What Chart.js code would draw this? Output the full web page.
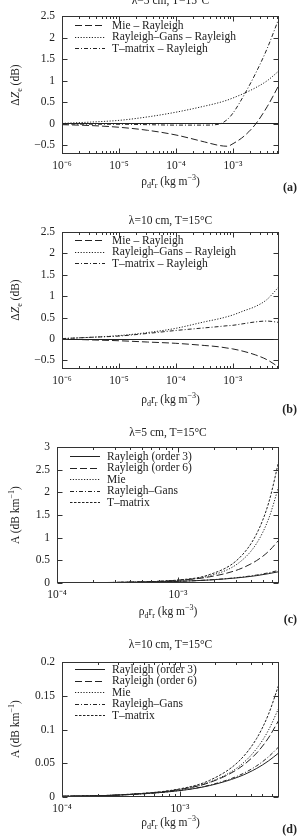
<!DOCTYPE html>
<html>
<head>
<meta charset="utf-8">
<script src="https://cdn.jsdelivr.net/npm/chart.js@4.4.1/dist/chart.umd.min.js"></script>
<style>
  body { margin: 0; width: 298px; height: 836px; background: #fff; position: relative; overflow: hidden;
         font-family: "Liberation Serif", "Times New Roman", serif; color: #222; }
  canvas { position: absolute; left: 0; }
  .ttl, .xt { position: absolute; text-align: center; font-size: 11.5px; line-height: 14px; white-space: nowrap; }
  .yt { position: absolute; left: 15px; font-size: 11.5px; line-height: 14px; white-space: nowrap;
        transform: translate(-50%, -50%) rotate(-90deg); }
  .tag { position: absolute; right: 1px; font-size: 12px; font-weight: bold; line-height: 14px; }
  sub, sup { font-size: 70%; line-height: 0; }
</style>
</head>
<body>

<canvas id="pa" width="298" height="176" style="top:0px"></canvas>
<canvas id="pb" width="298" height="176" style="top:216px"></canvas>
<canvas id="pc" width="298" height="176" style="top:431px"></canvas>
<canvas id="pd" width="298" height="176" style="top:646px"></canvas>

<!-- panel titles -->
<div class="ttl" style="left:62px;width:217px;top:-7px">λ=5 cm, T=15°C</div>
<div class="ttl" style="left:62px;width:217px;top:213px">λ=10 cm, T=15°C</div>
<div class="ttl" style="left:57px;width:222px;top:425px">λ=5 cm, T=15°C</div>
<div class="ttl" style="left:62px;width:217px;top:637px">λ=10 cm, T=15°C</div>

<!-- axis titles -->
<div class="yt" style="top:85px">Δ<i>Z</i><sub>e</sub> (dB)</div>
<div class="yt" style="top:300px">Δ<i>Z</i><sub>e</sub> (dB)</div>
<div class="yt" style="top:515px">A (dB km<sup>−1</sup>)</div>
<div class="yt" style="top:729px">A (dB km<sup>−1</sup>)</div>

<div class="xt" style="left:62px;width:217px;top:174px">ρ<sub>d</sub>r<sub>r</sub> (kg m<sup>−3</sup>)</div>
<div class="xt" style="left:62px;width:217px;top:392px">ρ<sub>d</sub>r<sub>r</sub> (kg m<sup>−3</sup>)</div>
<div class="xt" style="left:57px;width:222px;top:604px">ρ<sub>d</sub>r<sub>r</sub> (kg m<sup>−3</sup>)</div>
<div class="xt" style="left:62px;width:217px;top:815px">ρ<sub>d</sub>r<sub>r</sub> (kg m<sup>−3</sup>)</div>

<div class="tag" style="top:180px">(a)</div>
<div class="tag" style="top:402px">(b)</div>
<div class="tag" style="top:612px">(c)</div>
<div class="tag" style="top:822px">(d)</div>

<script>
/* ------------------------------- Data -------------------------------*/

// (a), (b): reflectivity differences, dB
const RHO_AB = [1e-6, 3.16e-6, 1e-5, 3.16e-5, 1e-4, 3.16e-4, 5.62e-4, 7.94e-4, 1e-3, 1.58e-3, 2.51e-3, 3.98e-3, 6.4e-3];

const A_MIE  = [-0.02, -0.04, -0.08, -0.15, -0.26, -0.42, -0.50, -0.52, -0.46, -0.28, 0.0, 0.40, 0.90];
const A_RG   = [0.01, 0.04, 0.08, 0.16, 0.27, 0.41, 0.49, 0.55, 0.60, 0.71, 0.84, 1.00, 1.23];
const A_TMAT = [0.0, -0.01, -0.01, -0.02, -0.03, -0.03, -0.01, 0.10, 0.25, 0.68, 1.18, 1.75, 2.45];

const B_MIE  = [0.0, -0.02, -0.04, -0.07, -0.10, -0.15, -0.18, -0.21, -0.23, -0.29, -0.37, -0.48, -0.65];
const B_RG   = [0.01, 0.04, 0.08, 0.15, 0.25, 0.40, 0.47, 0.52, 0.56, 0.66, 0.76, 0.92, 1.21];
const B_TMAT = [0.01, 0.04, 0.07, 0.13, 0.20, 0.26, 0.29, 0.31, 0.32, 0.36, 0.40, 0.42, 0.39];

// (c), (d): specific attenuation, dB/km
const RHO_CD = [1e-4, 3.16e-4, 1e-3, 1.78e-3, 3.16e-3, 4.47e-3, 5.62e-3, 6.84e-3];

const C_RAY3 = [0.0037, 0.0116, 0.0366, 0.065, 0.116, 0.163, 0.206, 0.25];
const C_RAY6 = [0.0041, 0.0148, 0.061, 0.131, 0.297, 0.495, 0.70, 0.95];
const C_MIE  = [0.0037, 0.0132, 0.059, 0.151, 0.438, 0.876, 1.42, 2.15];
const C_RG   = [0.0037, 0.0117, 0.037, 0.067, 0.122, 0.176, 0.226, 0.28];
const C_TMAT = [0.0038, 0.0137, 0.066, 0.176, 0.533, 1.087, 1.77, 2.71];

const D_RAY3 = [0.0010, 0.0030, 0.0095, 0.0169, 0.0300, 0.0424, 0.0534, 0.065];
const D_RAY6 = [0.0010, 0.0032, 0.0112, 0.0214, 0.0425, 0.0652, 0.0875, 0.113];
const D_MIE  = [0.0010, 0.0032, 0.0112, 0.0220, 0.0452, 0.0718, 0.0989, 0.131];
const D_RG   = [0.0010, 0.0030, 0.0097, 0.0175, 0.0319, 0.0462, 0.0595, 0.074];
const D_TMAT = [0.0010, 0.0033, 0.0121, 0.0246, 0.0531, 0.0869, 0.1224, 0.165];

/* ------------------------------- Styles -------------------------------*/

const INK = '#222';
const FONT = { family: '"Liberation Serif", "Times New Roman", serif', size: 11.5 };
const DASH = {
    solid: [],
    longDash: [7, 3],
    dotted: [1.2, 1.6],
    dashDot: [4, 2, 1, 2],
    shortDash: [2.5, 1.5]
};

const SUP = { '-': '⁻', '0': '⁰', '1': '¹', '2': '²', '3': '³', '4': '⁴', '5': '⁵', '6': '⁶', '7': '⁷', '8': '⁸', '9': '⁹' };

function powLabel(v) {                              // only 10^n gets a label
    const e = Math.log10(v);
    if (Math.abs(e - Math.round(e)) > 1e-6) return '';
    return '10' + String(Math.round(e)).split('').map(c => SUP[c]).join('');
}

function numLabel(v) {
    return String(Math.round(v * 1000) / 1000).replace('-', '−');
}

/* ------------------------------- Plugins -------------------------------*/

// gnuplot-like box with inward ticks (major + minor on log axis)
const framePlugin = {
    id: 'frame',
    afterDraw(chart) {
        const { ctx, chartArea: a, scales: { x, y } } = chart;
        const L = Math.round(a.left) + 0.5, R = Math.round(a.right) - 0.5;
        const T = Math.round(a.top) + 0.5, B = Math.round(a.bottom) - 0.5;
        ctx.save();
        ctx.strokeStyle = '#333';
        ctx.lineWidth = 1;
        ctx.setLineDash([]);
        ctx.strokeRect(L, T, R - L, B - T);
        ctx.beginPath();
        for (let e = Math.floor(Math.log10(x.min)); e <= Math.ceil(Math.log10(x.max)); e++) {
            for (let k = 1; k <= 9; k++) {
                const v = k * Math.pow(10, e);
                if (v < x.min * 0.999 || v > x.max) continue;
                const px = Math.round(x.getPixelForValue(v)) + 0.5;
                const len = k == 1 ? 5 : 2.5;
                ctx.moveTo(px, B); ctx.lineTo(px, B - len);
                ctx.moveTo(px, T); ctx.lineTo(px, T + len);
            }
        }
        y.ticks.forEach(t => {
            const py = Math.round(y.getPixelForValue(t.value)) + 0.5;
            ctx.moveTo(L, py); ctx.lineTo(L + 5, py);
            ctx.moveTo(R, py); ctx.lineTo(R - 5, py);
        });
        ctx.stroke();
        ctx.restore();
    }
};

// legend drawn inside the plot, line sample + label
const keyPlugin = {
    id: 'key',
    afterDraw(chart, args, opts) {
        const { ctx, chartArea: a } = chart;
        ctx.save();
        ctx.font = FONT.size + 'px ' + FONT.family;
        ctx.fillStyle = INK;
        ctx.textBaseline = 'middle';
        chart.data.datasets.forEach((ds, i) => {
            const y = a.top + opts.top + i * opts.row;
            const py = Math.round(y) + 0.5;
            ctx.beginPath();
            ctx.setLineDash(ds.borderDash || []);
            ctx.strokeStyle = ds.borderColor;
            ctx.lineWidth = ds.borderWidth;
            ctx.moveTo(a.left + 13, py);
            ctx.lineTo(a.left + 43, py);
            ctx.stroke();
            ctx.fillText(ds.label, a.left + 50, y + 0.5);
        });
        ctx.restore();
    }
};

/* ------------------------------- Charts -------------------------------*/

function drawPanel(id, p) {
    const ctx = document.getElementById(id).getContext('2d');
    return new Chart(ctx, {
        type: 'line',
        data: {
            datasets: p.series.map(s => ({
                label: s.label,
                data: p.rho.map((x, i) => ({ x: x, y: s.values[i] })),
                borderColor: INK,
                borderWidth: 1,
                borderDash: s.dash,
                pointRadius: 0,
                cubicInterpolationMode: 'monotone',
                fill: false
            }))
        },
        plugins: [framePlugin, keyPlugin],
        options: {
            responsive: false,
            animation: false,
            layout: { padding: { top: 16, right: p.padRight, left: 0, bottom: 0 } },
            plugins: {
                legend: { display: false },
                tooltip: { enabled: false },
                key: { top: p.keyTop, row: 11.5 }
            },
            scales: {
                x: {
                    type: 'logarithmic',
                    min: p.xmin,
                    max: p.xmax,
                    grid: { display: false, drawTicks: false },
                    border: { display: false },
                    ticks: { autoSkip: false, maxRotation: 0, padding: 5, color: INK, font: FONT, callback: powLabel },
                    afterFit: s => { s.height = p.xAxisH; }
                },
                y: {
                    type: 'linear',
                    min: p.ymin,
                    max: p.ymax,
                    grid: {
                        drawTicks: false,
                        color: c => (p.zeroLine && c.tick && c.tick.value === 0) ? INK : 'rgba(0,0,0,0)'
                    },
                    border: { display: false },
                    ticks: { stepSize: p.step, includeBounds: false, padding: 7, color: INK, font: FONT, callback: numLabel },
                    afterFit: s => { s.width = p.left; }
                }
            }
        }
    });
}

drawPanel('pa', {
    rho: RHO_AB, xmin: 1e-6, xmax: 6.4e-3, ymin: -0.7, ymax: 2.5, step: 0.5, zeroLine: true,
    left: 62, padRight: 19, xAxisH: 22, keyTop: 9,
    series: [
        { label: 'Mie – Rayleigh', values: A_MIE, dash: DASH.longDash },
        { label: 'Rayleigh–Gans – Rayleigh', values: A_RG, dash: DASH.dotted },
        { label: 'T–matrix – Rayleigh', values: A_TMAT, dash: DASH.dashDot }
    ]
});

drawPanel('pb', {
    rho: RHO_AB, xmin: 1e-6, xmax: 6.4e-3, ymin: -0.7, ymax: 2.5, step: 0.5, zeroLine: true,
    left: 62, padRight: 19.5, xAxisH: 23, keyTop: 8,
    series: [
        { label: 'Mie – Rayleigh', values: B_MIE, dash: DASH.longDash },
        { label: 'Rayleigh–Gans – Rayleigh', values: B_RG, dash: DASH.dotted },
        { label: 'T–matrix – Rayleigh', values: B_TMAT, dash: DASH.dashDot }
    ]
});

drawPanel('pc', {
    rho: RHO_CD, xmin: 1e-4, xmax: 6.84e-3, ymin: 0, ymax: 3, step: 0.5, zeroLine: false,
    left: 57, padRight: 19, xAxisH: 24, keyTop: 9,
    series: [
        { label: 'Rayleigh (order 3)', values: C_RAY3, dash: DASH.solid },
        { label: 'Rayleigh (order 6)', values: C_RAY6, dash: DASH.longDash },
        { label: 'Mie', values: C_MIE, dash: DASH.dotted },
        { label: 'Rayleigh–Gans', values: C_RG, dash: DASH.dashDot },
        { label: 'T–matrix', values: C_TMAT, dash: DASH.shortDash }
    ]
});

drawPanel('pd', {
    rho: RHO_CD, xmin: 1e-4, xmax: 6.84e-3, ymin: 0, ymax: 0.2, step: 0.05, zeroLine: false,
    left: 62, padRight: 19.5, xAxisH: 25, keyTop: 7,
    series: [
        { label: 'Rayleigh (order 3)', values: D_RAY3, dash: DASH.solid },
        { label: 'Rayleigh (order 6)', values: D_RAY6, dash: DASH.longDash },
        { label: 'Mie', values: D_MIE, dash: DASH.dotted },
        { label: 'Rayleigh–Gans', values: D_RG, dash: DASH.dashDot },
        { label: 'T–matrix', values: D_TMAT, dash: DASH.shortDash }
    ]
});
</script>
</body>
</html>
